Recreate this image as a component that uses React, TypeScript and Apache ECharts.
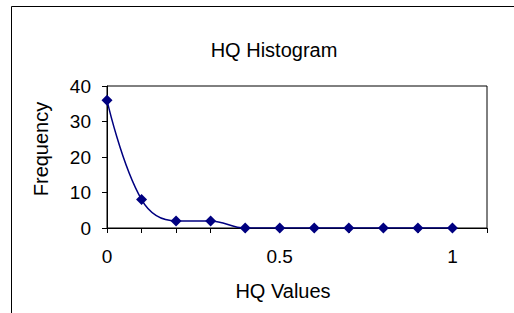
import React, { useEffect, useRef } from "react";
import * as echarts from "echarts";

const hqValues = [0, 0.1, 0.2, 0.3, 0.4, 0.5, 0.6, 0.7, 0.8, 0.9, 1];
const frequency = [36, 8, 2, 2, 0, 0, 0, 0, 0, 0, 0];
const xLabels = ["0", "0.5", "1"];

export default function App() {
  const ref = useRef<HTMLDivElement>(null);
  useEffect(() => {
    const chart = echarts.init(ref.current!, null, { renderer: "svg" });
    const font = "'Liberation Sans', Arial, sans-serif";
    chart.setOption({
      animation: false,
      backgroundColor: "#ffffff",
      textStyle: { fontFamily: font },
      title: {
        text: "HQ Histogram",
        left: 269,
        top: 35,
        textAlign: "center",
        textStyle: { fontFamily: font, fontSize: 20, fontWeight: "normal", color: "#000" },
      },
      graphic: [
        {
          type: "rect",
          shape: { x: 11.5, y: 6.5, width: 520, height: 330 },
          style: { fill: "none", stroke: "#000", lineWidth: 1 },
          silent: true,
        },
      ],
      grid: {
        left: 107,
        right: 27,
        top: 86,
        bottom: 85,
        show: true,
        borderColor: "#000",
        borderWidth: 1,
        backgroundColor: "transparent",
      },
      xAxis: {
        type: "value",
        min: 0,
        max: 1.1,
        interval: 0.1,
        name: "HQ Values",
        nameLocation: "middle",
        nameGap: 53,
        nameTextStyle: { fontFamily: font, fontSize: 20, color: "#000", padding: [0, 28, 0, 0] },
        axisLine: { show: true, lineStyle: { color: "#000", width: 1 } },
        axisTick: { show: true, inside: false, length: 5, lineStyle: { color: "#000" } },
        splitLine: { show: false },
        axisLabel: {
          fontFamily: font,
          fontSize: 19,
          color: "#000",
          margin: 19,
          showMaxLabel: true,
          formatter: (v: number) => {
            const s = String(Math.round(v * 10) / 10);
            return xLabels.indexOf(s) >= 0 ? s : "";
          },
        },
      },
      yAxis: {
        type: "value",
        min: 0,
        max: 40,
        interval: 10,
        name: "Frequency",
        nameLocation: "middle",
        nameGap: 56,
        nameRotate: 90,
        nameTextStyle: { fontFamily: font, fontSize: 20, color: "#000", padding: [0, 0, 0, 16] },
        axisLine: { show: true, lineStyle: { color: "#000", width: 1 } },
        axisTick: { show: true, inside: false, length: 5, lineStyle: { color: "#000" } },
        splitLine: { show: false },
        axisLabel: { fontFamily: font, fontSize: 19, color: "#000", margin: 16 },
      },
      series: [
        {
          type: "line",
          data: hqValues.map((x, i) => [x, frequency[i]]),
          smooth: 0.4,
          symbol: "diamond",
          symbolSize: 11,
          lineStyle: { color: "#000080", width: 1.5 },
          itemStyle: { color: "#000080" },
        },
      ],
    });
    return () => chart.dispose();
  }, []);
  return (
    <div
      ref={ref}
      style={{ position: "fixed", left: 0, top: 0, width: 514, height: 313 }}
    />
  );
}
